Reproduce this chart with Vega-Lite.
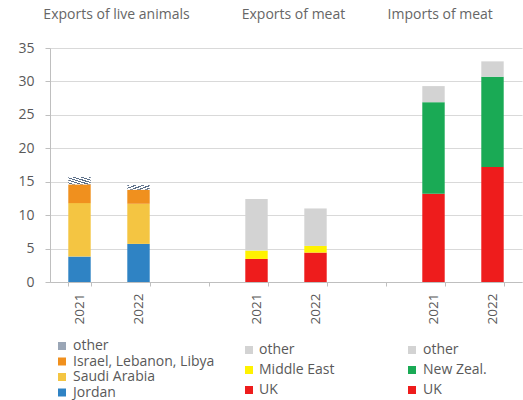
{
  "$schema": "https://vega.github.io/schema/vega-lite/v6.json",
  "autosize": {"type": "none"},
  "padding": {"left": 50, "top": 48, "right": 1, "bottom": 118},
  "width": 472,
  "height": 234,
  "config": {
    "font": "Open Sans",
    "view": {"stroke": null},
    "text": {"font": "Open Sans"},
    "axisX": {"labelAngle": -90, "labelExpr": "indexof(datum.label,'gap')>=0 ? '' : slice(datum.label,0,4)", "tickBand": "extent", "labelFontSize": 13.5, "labelColor": "#595959", "domainColor": "#bfbfbf", "tickColor": "#bfbfbf", "tickSize": 4, "labelPadding": 7, "grid": false},
    "axisY": {"grid": true, "gridColor": "#d9d9d9", "labelFontSize": 14, "labelColor": "#595959", "domainColor": "#bfbfbf", "tickColor": "#bfbfbf", "tickSize": 5, "labelPadding": 11},
    "legend": {"orient": "none", "title": null, "symbolType": "square", "symbolSize": 64, "symbolStrokeWidth": 0, "labelFontSize": 14, "labelColor": "#595959", "padding": 0}
  },
  "datasets": {
    "bars": [
      {"group": "A", "slot": "2021|a", "cat": "Jordan", "rank": 1, "value": 3.8},
      {"group": "A", "slot": "2021|a", "cat": "Saudi Arabia", "rank": 2, "value": 8.0},
      {"group": "A", "slot": "2021|a", "cat": "Israel, Lebanon, Libya", "rank": 3, "value": 2.8},
      {"group": "A", "slot": "2021|a", "cat": "other", "rank": 4, "value": 1.1},
      {"group": "A", "slot": "2022|a", "cat": "Jordan", "rank": 1, "value": 5.7},
      {"group": "A", "slot": "2022|a", "cat": "Saudi Arabia", "rank": 2, "value": 6.0},
      {"group": "A", "slot": "2022|a", "cat": "Israel, Lebanon, Libya", "rank": 3, "value": 2.1},
      {"group": "A", "slot": "2022|a", "cat": "other", "rank": 4, "value": 0.7},
      {"group": "B", "slot": "2021|b", "cat": "UK", "rank": 1, "value": 3.45},
      {"group": "B", "slot": "2021|b", "cat": "Middle East", "rank": 2, "value": 1.25},
      {"group": "B", "slot": "2021|b", "cat": "other", "rank": 3, "value": 7.7},
      {"group": "B", "slot": "2022|b", "cat": "UK", "rank": 1, "value": 4.4},
      {"group": "B", "slot": "2022|b", "cat": "Middle East", "rank": 2, "value": 1.0},
      {"group": "B", "slot": "2022|b", "cat": "other", "rank": 3, "value": 5.6},
      {"group": "C", "slot": "2021|c", "cat": "UK", "rank": 1, "value": 13.2},
      {"group": "C", "slot": "2021|c", "cat": "New Zeal.", "rank": 2, "value": 13.7},
      {"group": "C", "slot": "2021|c", "cat": "other", "rank": 3, "value": 2.4},
      {"group": "C", "slot": "2022|c", "cat": "UK", "rank": 1, "value": 17.2},
      {"group": "C", "slot": "2022|c", "cat": "New Zeal.", "rank": 2, "value": 13.5},
      {"group": "C", "slot": "2022|c", "cat": "other", "rank": 3, "value": 2.3}
    ],
    "titles": [
      {"slot": "2021|a", "title": "Exports of live animals", "level": 39.9},
      {"slot": "2021|b", "title": "Exports of meat", "level": 39.9}
    ],
    "titles2": [
      {"slot": "2021|c", "title": "Imports of meat", "level": 39.9}
    ]
  },
  "encoding": {
    "x": {
      "field": "slot", "type": "nominal", "title": null,
      "scale": {"domain": ["2021|a", "2022|a", "gap1", "2021|b", "2022|b", "gap2", "2021|c", "2022|c"], "paddingInner": 0.62, "paddingOuter": 0.31}
    }
  },
  "layer": [
    {
      "data": {"name": "bars"},
      "transform": [{"filter": "datum.group === 'A'"}],
      "mark": {"type": "bar"},
      "encoding": {
        "y": {
          "field": "value", "type": "quantitative", "stack": "zero", "title": null,
          "scale": {"domain": [0, 35], "nice": false},
          "axis": {"values": [0, 5, 10, 15, 20, 25, 30, 35]}
        },
        "order": {"field": "rank", "type": "quantitative"},
        "color": {
          "condition": {"test": "datum.cat === 'other'", "value": {"gradient": "linear", "x1": 0, "y1": 1, "x2": 1, "y2": 0, "stops": [
                {"offset": 0, "color": "#ffffff"}, {"offset": 0.08, "color": "#ffffff"},
                {"offset": 0.08, "color": "#5a6e88"}, {"offset": 0.15, "color": "#5a6e88"},
                {"offset": 0.15, "color": "#ffffff"}, {"offset": 0.25, "color": "#ffffff"},
                {"offset": 0.25, "color": "#5a6e88"}, {"offset": 0.32, "color": "#5a6e88"},
                {"offset": 0.32, "color": "#ffffff"}, {"offset": 0.42, "color": "#ffffff"},
                {"offset": 0.42, "color": "#5a6e88"}, {"offset": 0.49, "color": "#5a6e88"},
                {"offset": 0.49, "color": "#ffffff"}, {"offset": 0.58, "color": "#ffffff"},
                {"offset": 0.58, "color": "#5a6e88"}, {"offset": 0.65, "color": "#5a6e88"},
                {"offset": 0.65, "color": "#ffffff"}, {"offset": 0.75, "color": "#ffffff"},
                {"offset": 0.75, "color": "#5a6e88"}, {"offset": 0.82, "color": "#5a6e88"},
                {"offset": 0.82, "color": "#ffffff"}, {"offset": 0.92, "color": "#ffffff"},
                {"offset": 0.92, "color": "#5a6e88"}, {"offset": 1, "color": "#5a6e88"}
              ]}},
          "field": "cat", "type": "nominal",
          "scale": {
            "domain": ["other", "Israel, Lebanon, Libya", "Saudi Arabia", "Jordan"],
            "range": ["#9aa6b6", "#f0901e", "#f4c542", "#2f83c4"]
          },
          "legend": {"legendX": 5, "legendY": 291, "rowPadding": 1.5, "labelOffset": 4}
        }
      }
    },
    {
      "data": {"name": "bars"},
      "transform": [{"filter": "datum.group === 'B'"}],
      "mark": {"type": "bar"},
      "encoding": {
        "y": {"field": "value", "type": "quantitative", "stack": "zero", "title": null, "scale": {"domain": [0, 35], "nice": false}, "axis": {"values": [0, 5, 10, 15, 20, 25, 30, 35]}},
        "order": {"field": "rank", "type": "quantitative"},
        "color": {
          "field": "cat", "type": "nominal",
          "scale": {"domain": ["other", "Middle East", "UK"], "range": ["#d3d3d3", "#fff200", "#ee1c1c"]},
          "legend": {"legendX": 192, "legendY": 295, "rowPadding": 6, "labelOffset": 3}
        }
      }
    },
    {
      "data": {"name": "bars"},
      "transform": [{"filter": "datum.group === 'C'"}],
      "mark": {"type": "bar"},
      "encoding": {
        "y": {"field": "value", "type": "quantitative", "stack": "zero", "title": null, "scale": {"domain": [0, 35], "nice": false}, "axis": {"values": [0, 5, 10, 15, 20, 25, 30, 35]}},
        "order": {"field": "rank", "type": "quantitative"},
        "color": {
          "field": "cat", "type": "nominal",
          "scale": {"domain": ["other", "New Zeal.", "UK"], "range": ["#d3d3d3", "#1aaa55", "#ee1c1c"]},
          "legend": {"legendX": 355, "legendY": 295, "rowPadding": 6, "labelOffset": 4}
        }
      }
    },
    {
      "data": {"name": "titles"},
      "mark": {"type": "text", "fontSize": 14, "color": "#666666", "align": "center", "baseline": "middle"},
      "encoding": {
        "x": {"field": "slot", "type": "nominal", "bandPosition": 2.15, "title": null},
        "y": {"field": "level", "type": "quantitative", "title": null, "scale": {"domain": [0, 35], "nice": false}, "axis": {"values": [0, 5, 10, 15, 20, 25, 30, 35]}},
        "text": {"field": "title"}
      }
    },
    {
      "data": {"name": "titles2"},
      "mark": {"type": "text", "fontSize": 14, "color": "#666666", "align": "center", "baseline": "middle"},
      "encoding": {
        "x": {"field": "slot", "type": "nominal", "bandPosition": 0.8, "title": null},
        "y": {"field": "level", "type": "quantitative", "title": null, "scale": {"domain": [0, 35], "nice": false}, "axis": {"values": [0, 5, 10, 15, 20, 25, 30, 35]}},
        "text": {"field": "title"}
      }
    }
  ],
  "resolve": {"scale": {"color": "independent"}}
}
